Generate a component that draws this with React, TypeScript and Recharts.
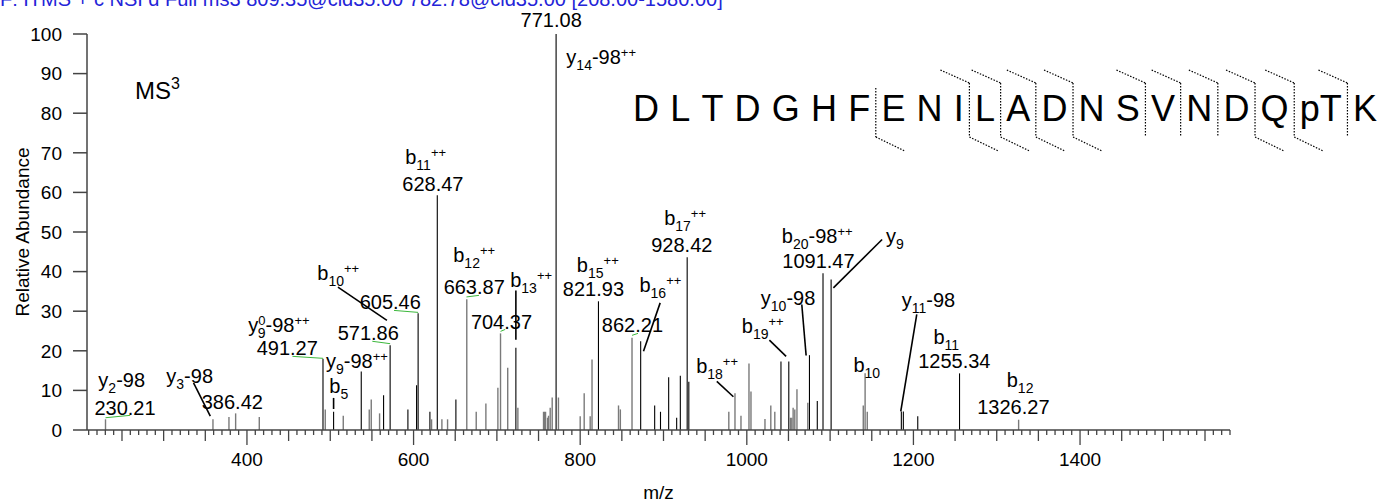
import React from 'react';
import { ComposedChart, XAxis, YAxis, Scatter, ReferenceLine } from 'recharts';

const FONT = '"Liberation Sans", Arial, Helvetica, sans-serif';

// centroided peaks
const peakMz = [
  230.21, 359.2, 378.4, 386.42, 414.8, 491.27, 494.0, 504.0, 515.6, 537.2,
  546.8, 549.2, 559.2, 564.0, 571.86, 593.2, 603.6, 605.46, 619.6, 621.6,
  628.47, 634.0, 640.8, 650.8, 663.87, 675.2, 686.8, 701.2, 704.37, 713.0,
  722.8, 725.2, 756.0, 757.2, 758.4, 760.8, 762.0, 764.0, 766.4, 771.08,
  773.9, 800.0, 804.8, 812.0, 814.2, 821.93, 846.0, 848.2, 862.21, 872.6,
  889.4, 896.4, 906.2, 915.8, 920.2, 928.42, 930.4, 978.4, 985.8, 993.0,
  1002.6, 1005.0, 1021.8, 1028.8, 1033.6, 1041.0, 1050.4, 1052.4, 1054.0, 1055.6,
  1057.6, 1060.2, 1073.2, 1075.2, 1084.6, 1091.47, 1101.2, 1139.8, 1142.0, 1144.6,
  1185.5, 1187.9, 1205.2, 1255.34, 1326.27,
];
const peakAbund = [
  2.7, 2.7, 3.3, 4.2, 3.3, 18.0, 5.2, 4.6, 3.6, 14.8,
  5.2, 7.7, 4.2, 8.8, 21.4, 5.2, 11.3, 29.5, 4.6, 2.7,
  59.3, 2.7, 2.7, 7.7, 33.0, 4.6, 6.7, 10.7, 24.4, 15.7,
  20.8, 5.6, 4.6, 4.6, 4.6, 3.1, 3.6, 5.6, 8.2, 100,
  8.2, 3.5, 9.3, 3.5, 17.8, 32.5, 6.2, 5.2, 23.3, 22.4,
  6.2, 4.6, 13.3, 3.1, 13.7, 43.6, 12.2, 4.6, 9.3, 3.6,
  16.8, 9.7, 2.8, 6.2, 4.6, 17.3, 17.3, 3.1, 3.1, 5.6,
  5.2, 10.3, 6.9, 18.9, 7.3, 39.6, 38.0, 6.2, 14.3, 4.6,
  4.7, 4.7, 3.5, 14.3, 2.6,
];
// peaks shown in black (the rest are grey)
const assignedMz = [
  491.27, 504.0, 537.2, 564.0, 571.86, 593.2, 603.6, 605.46, 619.6, 628.47,
  650.8, 722.8, 771.08, 821.93, 872.6, 889.4, 896.4, 906.2, 915.8, 920.2,
  928.42, 930.4, 1041.0, 1050.4, 1075.2, 1084.6, 1091.47, 1101.2, 1185.5, 1187.9,
  1205.2, 1255.34,
];

// m/z value tags: text, anchor m/z, anchor abundance
const mzTags = [
  { text: '230.21', mz: 253.6, rel: 5.6 },
  { text: '386.42', mz: 382.4, rel: 7.1 },
  { text: '491.27', mz: 448.4, rel: 20.6 },
  { text: '571.86', mz: 545.6, rel: 24.5 },
  { text: '605.46', mz: 572.0, rel: 32.3 },
  { text: '628.47', mz: 623.2, rel: 62.2 },
  { text: '663.87', mz: 672.8, rel: 36.1 },
  { text: '704.37', mz: 705.5, rel: 27.2 },
  { text: '771.08', mz: 765.2, rel: 100, above: true },
  { text: '821.93', mz: 815.9, rel: 35.6 },
  { text: '862.21', mz: 862.7, rel: 26.4 },
  { text: '928.42', mz: 922.0, rel: 46.6 },
  { text: '1091.47', mz: 1086.0, rel: 42.6 },
  { text: '1255.34', mz: 1249.1, rel: 17.4 },
  { text: '1326.27', mz: 1320.0, rel: 5.9 },
];

// fragment ion names (_{} subscript, ^{} superscript), left anchored
const ionTags = [
  { text: 'y_{2}-98', mz: 221.6, rel: 12.6 },
  { text: 'y_{3}-98', mz: 303.2, rel: 13.6 },
  { text: 'y^{0}_{9}-98^{++}', mz: 401.6, rel: 26.6 },
  { text: 'y_{9}-98^{++}', mz: 494.8, rel: 17.4 },
  { text: 'b_{5}', mz: 498.8, rel: 11.1 },
  { text: 'b_{10}^{++}', mz: 484.4, rel: 39.7 },
  { text: 'b_{11}^{++}', mz: 590.0, rel: 69.0 },
  { text: 'b_{12}^{++}', mz: 647.6, rel: 44.3 },
  { text: 'b_{13}^{++}', mz: 716.0, rel: 38.0 },
  { text: 'y_{14}-98^{++}', mz: 783.4, rel: 94.3 },
  { text: 'b_{15}^{++}', mz: 796.0, rel: 41.6 },
  { text: 'b_{16}^{++}', mz: 871.1, rel: 36.5 },
  { text: 'b_{17}^{++}', mz: 900.8, rel: 53.6 },
  { text: 'b_{18}^{++}', mz: 939.2, rel: 16.1 },
  { text: 'b_{19}^{++}', mz: 994.0, rel: 26.2 },
  { text: 'y_{10}-98', mz: 1016.8, rel: 33.4 },
  { text: 'b_{20}-98^{++}', mz: 1042.0, rel: 48.9 },
  { text: 'y_{9}', mz: 1167.2, rel: 48.9 },
  { text: 'b_{10}', mz: 1128.0, rel: 16.5 },
  { text: 'y_{11}-98', mz: 1186.0, rel: 32.9 },
  { text: 'b_{11}', mz: 1224.0, rel: 23.6 },
  { text: 'b_{12}', mz: 1312.0, rel: 12.7 },
];

// black leader lines from names to peaks [mz1, rel1, mz2, rel2]
const leaders = [
  [335.9, 11.9, 356.0, 3.5],
  [504.0, 8.1, 504.0, 5.3],
  [509.2, 36.1, 568.0, 27.7],
  [722.8, 35.2, 722.8, 22.8],
  [896.0, 32.1, 876.0, 19.9],
  [964.0, 12.3, 983.9, 8.4],
  [1027.1, 22.7, 1047.2, 18.6],
  [1066.0, 31.7, 1071.2, 18.8],
  [1162.4, 48.1, 1103.9, 35.9],
  [1204.0, 29.2, 1184.8, 4.7],
];
// green underlines joining displaced m/z tags to their peaks
const underlines = [
  [230.21, 3.1, 259.8, 3.7],
  [454.6, 18.6, 491.27, 18.1],
  [550.5, 22.4, 571.86, 21.8],
  [576.5, 30.2, 605.46, 29.7],
  [663.5, 33.6, 678.5, 34.0],
  [704.4, 24.9, 710.0, 25.4],
  [862.21, 23.9, 869.4, 24.4],
];

const residues = ['D', 'L', 'T', 'D', 'G', 'H', 'F', 'E', 'N', 'I', 'L', 'A', 'D', 'N', 'S', 'V', 'N', 'D', 'Q', 'pT', 'K'];
const cleaveTop = [10, 11, 12, 13, 15, 16, 17, 18, 19, 20];
const cleaveBottom = [7, 10, 11, 12, 13, 18, 19];

const xTicks: number[] = [];
for (let v = 210; v <= 1580; v += 10) xTicks.push(v);
const yTicks = [0, 10, 20, 30, 40, 50, 60, 70, 80, 90, 100];

const assigned = new Set(assignedMz);

const parseRich = (s: string) => {
  const out: { t: string; kind: 'n' | 'sub' | 'sup' }[] = [];
  const re = /_\{([^}]*)\}|\^\{([^}]*)\}|([^_^]+)/g;
  let m: RegExpExecArray | null;
  while ((m = re.exec(s))) {
    if (m[1] !== undefined) out.push({ t: m[1], kind: 'sub' });
    else if (m[2] !== undefined) out.push({ t: m[2], kind: 'sup' });
    else out.push({ t: m[3], kind: 'n' });
  }
  return out;
};

const IonLabel = (props: any) => {
  const { cx, cy, payload } = props;
  if (cx == null || cy == null) return null;
  const parts = parseRich(payload.text);
  let shift = 0;
  let prev = '';
  return (
    <text x={cx} y={cy + 7} fontFamily={FONT} fontSize={20} fill="#000">
      {parts.map((p, i) => {
        const target = p.kind === 'sub' ? 6 : p.kind === 'sup' ? -7 : 0;
        const dy = target - shift;
        shift = target;
        // stack a subscript right under a preceding superscript
        const dx = p.kind === 'sub' && prev === 'sup' ? -parts[i - 1].t.length * 7.8 : 0;
        prev = p.kind;
        return (
          <tspan key={i} dy={dy} dx={dx} fontSize={p.kind === 'n' ? 20 : p.kind === 'sub' ? 14 : 13}>
            {p.t}
          </tspan>
        );
      })}
    </text>
  );
};

const MzLabel = (props: any) => {
  const { cx, cy, payload } = props;
  if (cx == null || cy == null) return null;
  return (
    <text x={cx} y={payload.above ? cy - 7 : cy + 7} textAnchor="middle" fontFamily={FONT} fontSize={20} fill="#000">
      {payload.text}
    </text>
  );
};

const XTick = (props: any) => {
  const { x, y, payload } = props;
  const v = payload.value;
  const len = v % 200 === 0 ? 15 : v % 50 === 0 ? 11 : 5;
  return (
    <g>
      <line x1={x} x2={x} y1={y} y2={y + len} stroke="#444" strokeWidth={1.3} />
      {v % 200 === 0 && (
        <text x={x} y={y + 36} textAnchor="middle" fontFamily={FONT} fontSize={19} fill="#000">
          {v}
        </text>
      )}
    </g>
  );
};

// sequence layout (Arial advance widths)
const adv: Record<string, number> = {
  D: 0.722, L: 0.556, T: 0.611, G: 0.778, H: 0.722, F: 0.611, E: 0.667, N: 0.722,
  I: 0.278, A: 0.667, S: 0.667, V: 0.667, Q: 0.778, p: 0.556, K: 0.667,
};
const SEQ_EM = 36;
const SEQ_GAP = 11.2;
const SEQ_X0 = 633;
const SEQ_BASE = 121;

const Sequence = () => {
  let cursor = SEQ_X0;
  const placed = residues.map((r) => {
    const chars = r.split('').map((c) => {
      const w = adv[c] * SEQ_EM;
      const cx = cursor + w / 2;
      cursor += w;
      return { c, cx };
    });
    const end = cursor;
    cursor += SEQ_GAP;
    return { chars, end };
  });
  const gapX = (n: number) => placed[n - 1].end + SEQ_GAP / 2;
  const dot = { stroke: '#000', strokeWidth: 1.2, strokeDasharray: '1.5 1.5' };
  const sites = Array.from(new Set([...cleaveTop, ...cleaveBottom]));
  return (
    <g>
      {placed.map((p, i) =>
        p.chars.map((ch, j) => (
          <text
            key={`${i}-${j}`}
            x={ch.cx}
            y={SEQ_BASE}
            textAnchor="middle"
            fontFamily={FONT}
            fontSize={36}
            fill="#000"
          >
            {ch.c}
          </text>
        ))
      )}
      {sites.map((n) => {
        const gx = gapX(n);
        const top = cleaveTop.includes(n);
        return (
          <g key={n}>
            <line x1={gx} x2={gx} y1={top ? 83 : 88} y2={137} {...dot} />
            {top && <line x1={gx - 29} y1={70} x2={gx} y2={83} {...dot} />}
            {cleaveBottom.includes(n) && <line x1={gx} y1={137} x2={gx + 29} y2={151} {...dot} />}
          </g>
        );
      })}
    </g>
  );
};

export default function App() {
  return (
    <div style={{ position: 'absolute', left: 0, top: 0, width: 1387, height: 502, background: '#fff', overflow: 'hidden' }}>
      <ComposedChart width={1387} height={502} margin={{ top: 34, right: 157, bottom: 0, left: 0 }}>
        <XAxis
          type="number"
          dataKey="mz"
          domain={[208, 1580]}
          ticks={xTicks}
          interval={0}
          tick={<XTick />}
          tickLine={false}
          tickSize={0}
          tickMargin={0}
          height={72}
          stroke="#444"
          strokeWidth={1.5}
          label={{ value: 'm/z', position: 'insideBottom', offset: 3, fontFamily: FONT, fontSize: 19, fill: '#000' }}
        />
        <YAxis
          type="number"
          dataKey="rel"
          domain={[0, 100]}
          ticks={yTicks}
          interval={0}
          width={87}
          tickSize={14}
          tickMargin={11}
          stroke="#444"
          strokeWidth={1.5}
          tick={{ fontFamily: FONT, fontSize: 19, fill: '#000' }}
        />
        {peakMz.map((mz, i) => (
          <ReferenceLine
            key={`p${i}`}
            segment={[{ x: mz, y: 0 }, { x: mz, y: peakAbund[i] }]}
            stroke={assigned.has(mz) ? '#000' : '#7a7a7a'}
            strokeWidth={assigned.has(mz) ? 1.1 : 1.4}
          />
        ))}
        {leaders.map((l, i) => (
          <ReferenceLine key={`l${i}`} segment={[{ x: l[0], y: l[1] }, { x: l[2], y: l[3] }]} stroke="#000" strokeWidth={1.6} />
        ))}
        {underlines.map((l, i) => (
          <ReferenceLine key={`u${i}`} segment={[{ x: l[0], y: l[1] }, { x: l[2], y: l[3] }]} stroke="#3cb83c" strokeWidth={1} />
        ))}
        <Scatter data={mzTags} dataKey="rel" shape={<MzLabel />} isAnimationActive={false} />
        <Scatter data={ionTags} dataKey="rel" shape={<IonLabel />} isAnimationActive={false} />
      </ComposedChart>
      <svg width={1387} height={502} style={{ position: 'absolute', left: 0, top: 0, pointerEvents: 'none' }}>
        <text x={0} y={6} fontFamily={FONT} fontSize={20} fill="#2424d8">
          F: ITMS + c NSI d Full ms3 809.35@cid35.00 782.78@cid35.00 [208.00-1580.00]
        </text>
        <text x={135} y={99} fontFamily={FONT} fontSize={24} fill="#000">
          MS<tspan fontSize={16} dy={-10}>3</tspan>
        </text>
        <text
          transform="translate(29 232) rotate(-90)"
          textAnchor="middle"
          fontFamily={FONT}
          fontSize={19}
          fill="#000"
        >
          Relative Abundance
        </text>
        <Sequence />
      </svg>
    </div>
  );
}
